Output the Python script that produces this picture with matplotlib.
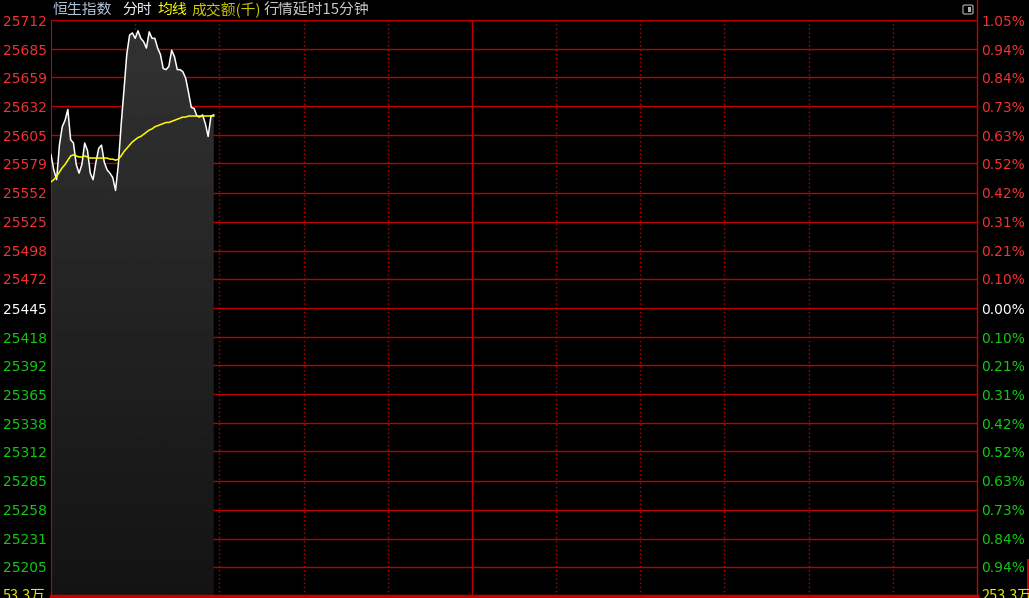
import numpy as np
import matplotlib
matplotlib.use("Agg")
import matplotlib.pyplot as plt
import matplotlib.transforms as mtransforms
from matplotlib.lines import Line2D
from matplotlib.patches import FancyBboxPatch

plt.rcParams['font.family'] = ['Noto Sans CJK SC', 'DejaVu Sans']

# --- data ---
prev_close = 25445
price_levels = [25712, 25685, 25659, 25632, 25605, 25579, 25552, 25525, 25498, 25472,
                25445, 25418, 25392, 25365, 25338, 25312, 25285, 25258, 25231, 25205]
pct_labels = ["1.05%", "0.94%", "0.84%", "0.73%", "0.63%", "0.52%", "0.42%", "0.31%", "0.21%", "0.10%",
              "0.00%", "0.10%", "0.21%", "0.31%", "0.42%", "0.52%", "0.63%", "0.73%", "0.84%", "0.94%"]

minutes = list(range(59))
price = [25587, 25573, 25564, 25596, 25613, 25619, 25629, 25601, 25598, 25578,
         25570, 25578, 25598, 25591, 25570, 25564, 25580, 25593, 25596, 25580,
         25573, 25570, 25566, 25554, 25578, 25615, 25647, 25680, 25698, 25700,
         25695, 25702, 25695, 25692, 25686, 25701, 25695, 25695, 25686, 25680,
         25667, 25666, 25669, 25684, 25678, 25666, 25666, 25664, 25658, 25645,
         25631, 25630, 25623, 25622, 25624, 25616, 25604, 25623, 25624]
avg_price = [25562, 25564, 25567, 25571, 25575, 25578, 25582, 25586, 25587, 25586,
             25585, 25585, 25586, 25585, 25584, 25584, 25584, 25584, 25584, 25584,
             25584, 25583, 25583, 25582, 25583, 25586, 25590, 25593, 25596, 25599,
             25601, 25603, 25604, 25606, 25608, 25610, 25611, 25613, 25614, 25615,
             25616, 25617, 25617, 25618, 25619, 25620, 25621, 25622, 25622, 25623,
             25623, 25623, 25623, 25623, 25623, 25623, 25623, 25623, 25623]
total_minutes = 330
vol_left = "53.3万"
vol_right = "253.3万"

W, H = 1029, 598
fig = plt.figure(figsize=(W / 100, H / 100), dpi=100, facecolor='black')
ax = fig.add_axes([51 / W, 2 / H, (977 - 51) / W, 576 / H])
ax.set_facecolor('black')
ymin, ymax = 25178, 25712
ax.set_xlim(0, total_minutes)
ax.set_ylim(ymin, ymax)
ax.set_xticks([])
ax.set_yticks([])
for s in ['top', 'right']:
    ax.spines[s].set_visible(False)
ax.spines['left'].set_color('#c80000')
ax.spines['bottom'].set_color('#c80000')
ax.spines['bottom'].set_linewidth(2.5)

grid_red = '#c00000'
for lv in price_levels:
    ax.axhline(lv, color=grid_red, lw=1, zorder=1)

# vertical grid: every 30 minutes, solid at lunch break
for m in range(30, total_minutes, 30):
    if m == 150:
        ax.axvline(m, color=grid_red, lw=1, zorder=1)
    else:
        ax.axvline(m, color=grid_red, lw=1, ls=(0, (1, 2)), zorder=1)

# gradient fill under price
x = np.array(minutes)
y = np.array(price)
poly = ax.fill_between(x, y, ymin, color='none', lw=0)
grad = np.linspace(0.2, 0.075, 256).reshape(-1, 1)
img = ax.imshow(grad, cmap='gray', vmin=0, vmax=1, aspect='auto',
                extent=[0, total_minutes, ymin, ymax], origin='upper', zorder=2)
img.set_clip_path(poly.get_paths()[0], transform=ax.transData)

ax.plot(x, y, color='white', lw=1.1, zorder=4)
ax.plot(x, avg_price, color='#ffff00', lw=1.1, zorder=4)

# axis labels
tl = mtransforms.blended_transform_factory(fig.transFigure, ax.transData)
red, green, white = '#f03232', '#14c814', '#ffffff'
for lv, pl in zip(price_levels, pct_labels):
    c = red if lv > prev_close else (white if lv == prev_close else green)
    fig.text(3 / W, lv, str(lv), transform=tl, color=c, fontsize=10,
             family='DejaVu Sans', ha='left', va='center_baseline')
    fig.text(981 / W, lv, pl, transform=tl, color=c, fontsize=10,
             family='DejaVu Sans', ha='left', va='center_baseline')

# volume labels, cut off by the bottom edge
fig.text(3 / W, 1 - 589 / H, vol_left, color='#e6e600', fontsize=10.5, ha='left', va='top')
fig.text(981 / W, 1 - 589 / H, vol_right, color='#e6e600', fontsize=10.5, ha='left', va='top')

# right border lines
fig.add_artist(Line2D([977 / W, 977 / W], [0, 1], color='#c80000', lw=1))
fig.add_artist(Line2D([1027.5 / W, 1027.5 / W], [0, 1 - 560 / H], color='#c80000', lw=1.5))

# title
ty = 1 - 10 / H
fig.text(53 / W, ty, "恒生指数", color='#b0c4d8', fontsize=10.7, va='center')
fig.text(122 / W, ty, "分时", color='#f0f0f0', fontsize=10.7, va='center')
fig.text(157 / W, ty, "均线", color='#ffff00', fontsize=10.7, va='center')
fig.text(191 / W, ty, "成交额(千)", color='#c8c800', fontsize=10.7, va='center')
fig.text(264 / W, ty, "行情延时15分钟", color='#c8c8c8', fontsize=10.7, va='center')

# small icon top right
icon = FancyBboxPatch((963 / W, 1 - 14 / H), 10 / W, 9 / H, boxstyle='round,pad=0,rounding_size=0.002',
                      transform=fig.transFigure, fc='none', ec='#909090', lw=1)
fig.add_artist(icon)
fig.add_artist(FancyBboxPatch((968 / W, 1 - 12 / H), 3 / W, 5 / H, boxstyle='square,pad=0',
                              transform=fig.transFigure, fc='#b0b0b0', ec='none'))

fig.savefig('out.png', dpi=100, facecolor='black')
